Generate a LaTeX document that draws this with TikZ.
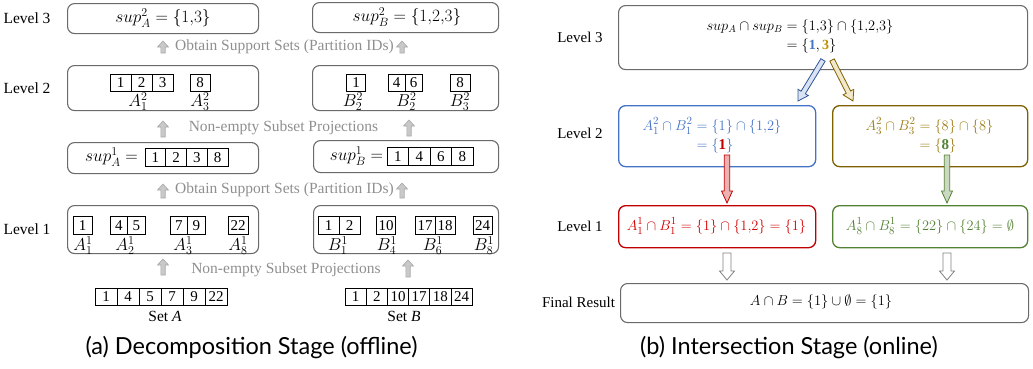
\documentclass[tikz,border=0pt]{standalone}
\usepackage{fontspec}
\usepackage{amsmath}
\setmainfont{Liberation Serif}
\newfontfamily\capfont{Lato}
\usetikzlibrary{calc}
\definecolor{cblue}{HTML}{4472C4}
\definecolor{cbluedk}{HTML}{2F5597}
\definecolor{cgold}{HTML}{9C7A12}
\definecolor{cgoldline}{HTML}{7F6000}
\definecolor{cgoldbold}{HTML}{BF9000}
\definecolor{cred}{HTML}{D00000}
\definecolor{credline}{HTML}{C00000}
\definecolor{cgreen}{HTML}{548235}
\definecolor{gtext}{HTML}{8F8F8F}
\definecolor{gfill}{HTML}{C9C9C9}
\definecolor{gline}{HTML}{A8A8A8}
\definecolor{bline}{HTML}{6A6A6A}
\newcommand\blockarr[6]{%
  \coordinate (ba-h) at ($(#2)!#6!(#1)$);
  \draw[#3] ($(#1)!#4!90:(#2)$) -- ($(ba-h)!#4!90:(#2)$) -- ($(ba-h)!#5!90:(#2)$) -- (#2)
    -- ($(ba-h)!#5!-90:(#2)$) -- ($(ba-h)!#4!-90:(#2)$) -- ($(#1)!#4!-90:(#2)$) -- cycle;}
\tikzset{
  box/.style={draw=bline, line width=1.1pt, rounded corners=7pt, inner sep=0pt, anchor=north west},
  cbox/.style={line width=1.3pt, rounded corners=7pt, inner sep=0pt, anchor=north west},
  cell/.style={draw=black, line width=0.8pt, minimum height=18, inner sep=0pt, font=\fontsize{15}{15}\selectfont},
  scell/.style={cell, minimum height=17, minimum width=22},
  lbl/.style={font=\fontsize{15.5}{18}\selectfont, inner sep=0pt},
  glbl/.style={lbl, text=gtext},
  mth/.style={inner sep=0pt, font=\fontsize{15}{16}\selectfont},
  lmth/.style={inner sep=0pt, font=\fontsize{16.5}{18}\selectfont},
  garr/.style={fill=gfill, draw=gline, line width=0.6pt},
  captext/.style={font=\capfont\fontsize{23.5}{26}\selectfont, inner sep=0pt}
}
\begin{document}
\begin{tikzpicture}[x=1pt,y=-1pt]
\useasboundingbox (0,0) rectangle (1033,368);
% ---------------- left panel ----------------
\node[lbl] (lv3) at (27,18) {Level 3};
\node[lbl] (lv2) at (27,88) {Level 2};
\node[lbl] (lv1) at (27,229) {Level 1};
% boxes
\node[box, minimum width=191, minimum height=30] (l3a) at (67,3) {};
\node[box, minimum width=186, minimum height=30] (l3b) at (312,2) {};
\node[box, minimum width=191, minimum height=45] (l2a) at (67,65) {};
\node[box, minimum width=186, minimum height=45] (l2b) at (312,65) {};
\node[box, minimum width=191, minimum height=31] (s1a) at (67,142) {};
\node[box, minimum width=185, minimum height=32] (s1b) at (313,140) {};
\node[box, minimum width=191, minimum height=48] (l1a) at (67,205) {};
\node[box, minimum width=185, minimum height=48] (l1b) at (313,205) {};
% level 3 text
\node[lmth] (t3a) at (163,18) {$sup_A^2=\{1{,}3\}$};
\node[lmth] (t3b) at (407,17) {$sup_B^2=\{1{,}2{,}3\}$};
% level 2 A
\node[cell, minimum width=21, minimum height=17] (a21) at (120.5,82.5) {1};
\node[cell, minimum width=21, minimum height=17] (a22) at (141.5,82.5) {2};
\node[cell, minimum width=21, minimum height=17] (a23) at (162.5,82.5) {3};
\node[cell, minimum width=20, minimum height=17] (a28) at (200,82.5) {8};
\node[lmth] (la21) at (138,101.5) {$A_1^2$};
\node[lmth] (la23) at (200,101.5) {$A_3^2$};
% level 2 B
\node[cell, minimum width=19, minimum height=17] (b21) at (356,82.5) {1};
\node[cell, minimum width=17, minimum height=17] (b24) at (396.5,82.5) {4};
\node[cell, minimum width=17, minimum height=17] (b26) at (413.5,82.5) {6};
\node[cell, minimum width=20, minimum height=17] (b28) at (460,82.5) {8};
\node[lmth] (lb21) at (353,101.5) {$B_2^2$};
\node[lmth] (lb22) at (406.5,101.5) {$B_2^2$};
\node[lmth] (lb23) at (460,101.5) {$B_3^2$};
% sup^1
\node[lmth] (t1a) at (111.5,157) {$sup_A^1=$};
\node[cell, minimum width=20.75] (s1a1) at (155.4,157.5) {1};
\node[cell, minimum width=20.75] (s1a2) at (176.1,157.5) {2};
\node[cell, minimum width=20.75] (s1a3) at (196.9,157.5) {3};
\node[cell, minimum width=20.75] (s1a4) at (217.6,157.5) {8};
\node[lmth] (t1b) at (356.5,156) {$sup_B^1=$};
\node[cell, minimum width=21.5] (s1b1) at (397.75,156.5) {1};
\node[cell, minimum width=21.5] (s1b2) at (419.25,156.5) {4};
\node[cell, minimum width=21.5] (s1b3) at (440.75,156.5) {6};
\node[cell, minimum width=21.5] (s1b4) at (462.25,156.5) {8};
% level 1 A
\node[cell, minimum width=19] (a11) at (82.5,225.5) {1};
\node[cell, minimum width=17.5] (a14) at (118.75,225.5) {4};
\node[cell, minimum width=17.5] (a15) at (136.25,225.5) {5};
\node[cell, minimum width=17.5] (a17) at (178.75,225.5) {7};
\node[cell, minimum width=17.5] (a19) at (196.25,225.5) {9};
\node[cell, minimum width=20] (a122) at (238,225.5) {22};
\node[lmth] (la11) at (83,245.5) {$A_1^1$};
\node[lmth] (la12) at (125,245.5) {$A_2^1$};
\node[lmth] (la13) at (183,245.5) {$A_3^1$};
\node[lmth] (la18) at (238,245.5) {$A_8^1$};
% level 1 B
\node[cell, minimum width=21] (b11) at (328.5,225.5) {1};
\node[cell, minimum width=21] (b12) at (349.5,225.5) {2};
\node[cell, minimum width=19] (b110) at (386,225.5) {10};
\node[cell, minimum width=20] (b117) at (425,225.5) {17};
\node[cell, minimum width=20] (b118) at (445,225.5) {18};
\node[cell, minimum width=19] (b124) at (482.5,225.5) {24};
\node[lmth] (lb11) at (338,245.5) {$B_1^1$};
\node[lmth] (lb14) at (387,245.5) {$B_4^1$};
\node[lmth] (lb16) at (433,245.5) {$B_6^1$};
\node[lmth] (lb18) at (484,245.5) {$B_8^1$};
% sets
\node[scell] (sa1) at (106,296.5) {1};
\node[scell] (sa2) at (128,296.5) {4};
\node[scell] (sa3) at (150,296.5) {5};
\node[scell] (sa4) at (172,296.5) {7};
\node[scell] (sa5) at (194,296.5) {9};
\node[scell] (sa6) at (216,296.5) {22};
\node[lbl] (seta) at (165,316) {Set \textit{A}};
\node[scell, minimum width=21.2] (sb1) at (355.6,296.5) {1};
\node[scell, minimum width=21.2] (sb2) at (376.8,296.5) {2};
\node[scell, minimum width=21.2] (sb3) at (398,296.5) {10};
\node[scell, minimum width=21.2] (sb4) at (419.2,296.5) {17};
\node[scell, minimum width=21.2] (sb5) at (440.4,296.5) {18};
\node[scell, minimum width=21.2] (sb6) at (461.6,296.5) {24};
\node[lbl] (setb) at (404,316) {Set \textit{B}};
% grey labels
\node[glbl] (ob1) at (284.5,47) {Obtain Support Sets (Partition IDs)};
\node[glbl] (ne1) at (283.5,128) {Non-empty Subset Projections};
\node[glbl] (ob2) at (284.5,190) {Obtain Support Sets (Partition IDs)};
\node[glbl] (ne2) at (286,270) {Non-empty Subset Projections};
% grey arrows
\coordinate (ga1s) at (163,53); \coordinate (ga1e) at (163,41);
\coordinate (gb1s) at (402,53); \coordinate (gb1e) at (402,41);
\coordinate (ga2s) at (163,137); \coordinate (ga2e) at (163,121);
\coordinate (gb2s) at (409,136); \coordinate (gb2e) at (409,120);
\coordinate (ga3s) at (163,198); \coordinate (ga3e) at (163,184);
\coordinate (gb3s) at (402,198); \coordinate (gb3e) at (402,183);
\coordinate (ga4s) at (163,275); \coordinate (ga4e) at (163,259);
\coordinate (gb4s) at (408,277); \coordinate (gb4e) at (408,260);
\blockarr{ga1s}{ga1e}{garr}{2.2pt}{5.5pt}{6pt}
\blockarr{gb1s}{gb1e}{garr}{2.2pt}{5.5pt}{6pt}
\blockarr{ga2s}{ga2e}{garr}{2.2pt}{5.5pt}{6pt}
\blockarr{gb2s}{gb2e}{garr}{2.2pt}{5.5pt}{6pt}
\blockarr{ga3s}{ga3e}{garr}{2.2pt}{5.5pt}{6pt}
\blockarr{gb3s}{gb3e}{garr}{2.2pt}{5.5pt}{6pt}
\blockarr{ga4s}{ga4e}{garr}{2.2pt}{5.5pt}{6pt}
\blockarr{gb4s}{gb4e}{garr}{2.2pt}{5.5pt}{6pt}
\node[captext] (capa) at (251.5,348) {(a) Decomposition Stage (offline)};
% ---------------- right panel ----------------
\node[lbl, font=\fontsize{15}{18}\selectfont] (rl3) at (580,37) {Level 3};
\node[lbl, font=\fontsize{15}{18}\selectfont] (rl2) at (580,133) {Level 2};
\node[lbl, font=\fontsize{15}{18}\selectfont] (rl1) at (580,226) {Level 1};
\node[lbl, font=\fontsize{15}{18}\selectfont] (rlf) at (578.5,302) {Final Result};
\node[box, minimum width=409, minimum height=64] (r3) at (618,5) {};
\node[cbox, draw=cblue, minimum width=197, minimum height=61] (rb) at (618,105) {};
\node[cbox, draw=cgoldline, minimum width=195, minimum height=61] (rg) at (832,105) {};
\node[cbox, draw=credline, minimum width=197, minimum height=42] (rr) at (618,205) {};
\node[cbox, draw=cgreen, minimum width=195, minimum height=42] (rgr) at (832,205) {};
\node[box, minimum width=408, minimum height=39] (rf) at (620,283) {};
\node[mth, font=\fontsize{14}{16}\selectfont] (tr3) at (800,37) {$\begin{aligned} sup_A\cap sup_B &= \{1{,}3\}\cap\{1{,}2{,}3\}\\ &= \{\textcolor{cblue}{\mathbf{1}},\textcolor{cgoldbold}{\mathbf{3}}\}\end{aligned}$};
\node[mth, text=cblue] (trb) at (712,136) {$\begin{aligned} A_1^2\cap B_1^2 &= \{1\}\cap\{1{,}2\}\\ &= \{\textcolor{credline}{\mathbf{1}}\}\end{aligned}$};
\node[mth, text=cgold] (trg) at (929.5,136) {$\begin{aligned} A_3^2\cap B_3^2 &= \{8\}\cap\{8\}\\ &= \{\textcolor{cgreen}{\mathbf{8}}\}\end{aligned}$};
\node[mth, text=cred] (trr) at (716.5,226) {$A_1^1\cap B_1^1=\{1\}\cap\{1{,}2\}=\{1\}$};
\node[mth, text=cgreen] (trgr) at (930,226) {$A_8^1\cap B_8^1=\{22\}\cap\{24\}=\emptyset$};
\node[mth] (trf) at (821,302) {$A\cap B=\{1\}\cup\emptyset=\{1\}$};
% arrows
\coordinate (ab1) at (823,60); \coordinate (ab2) at (798,101);
\coordinate (ag1) at (832,60); \coordinate (ag2) at (853,101);
\coordinate (ar1) at (727,155); \coordinate (ar2) at (727,203);
\coordinate (an1) at (947,155); \coordinate (an2) at (947,203);
\coordinate (ax1) at (727,253); \coordinate (ax2) at (727,280);
\coordinate (ay1) at (947,253); \coordinate (ay2) at (947,280);
\blockarr{ab1}{ab2}{draw=cbluedk, fill=cblue!20, line width=0.8pt}{2.5pt}{6pt}{10pt}
\blockarr{ag1}{ag2}{draw=cgoldline, fill=cgoldbold!20, line width=0.8pt}{2.5pt}{6pt}{10pt}
\blockarr{ar1}{ar2}{draw=credline, fill=credline!30, line width=0.8pt}{2.7pt}{5.5pt}{12pt}
\blockarr{an1}{an2}{draw=cgreen, fill=cgreen!30, line width=0.8pt}{2.7pt}{5.5pt}{12pt}
\blockarr{ax1}{ax2}{draw=gray, fill=white, line width=0.8pt}{4pt}{7.5pt}{9pt}
\blockarr{ay1}{ay2}{draw=gray, fill=white, line width=0.8pt}{4pt}{7.5pt}{9pt}
\node[captext] (capb) at (789,348) {(b) Intersection Stage (online)};
\end{tikzpicture}
\end{document}
